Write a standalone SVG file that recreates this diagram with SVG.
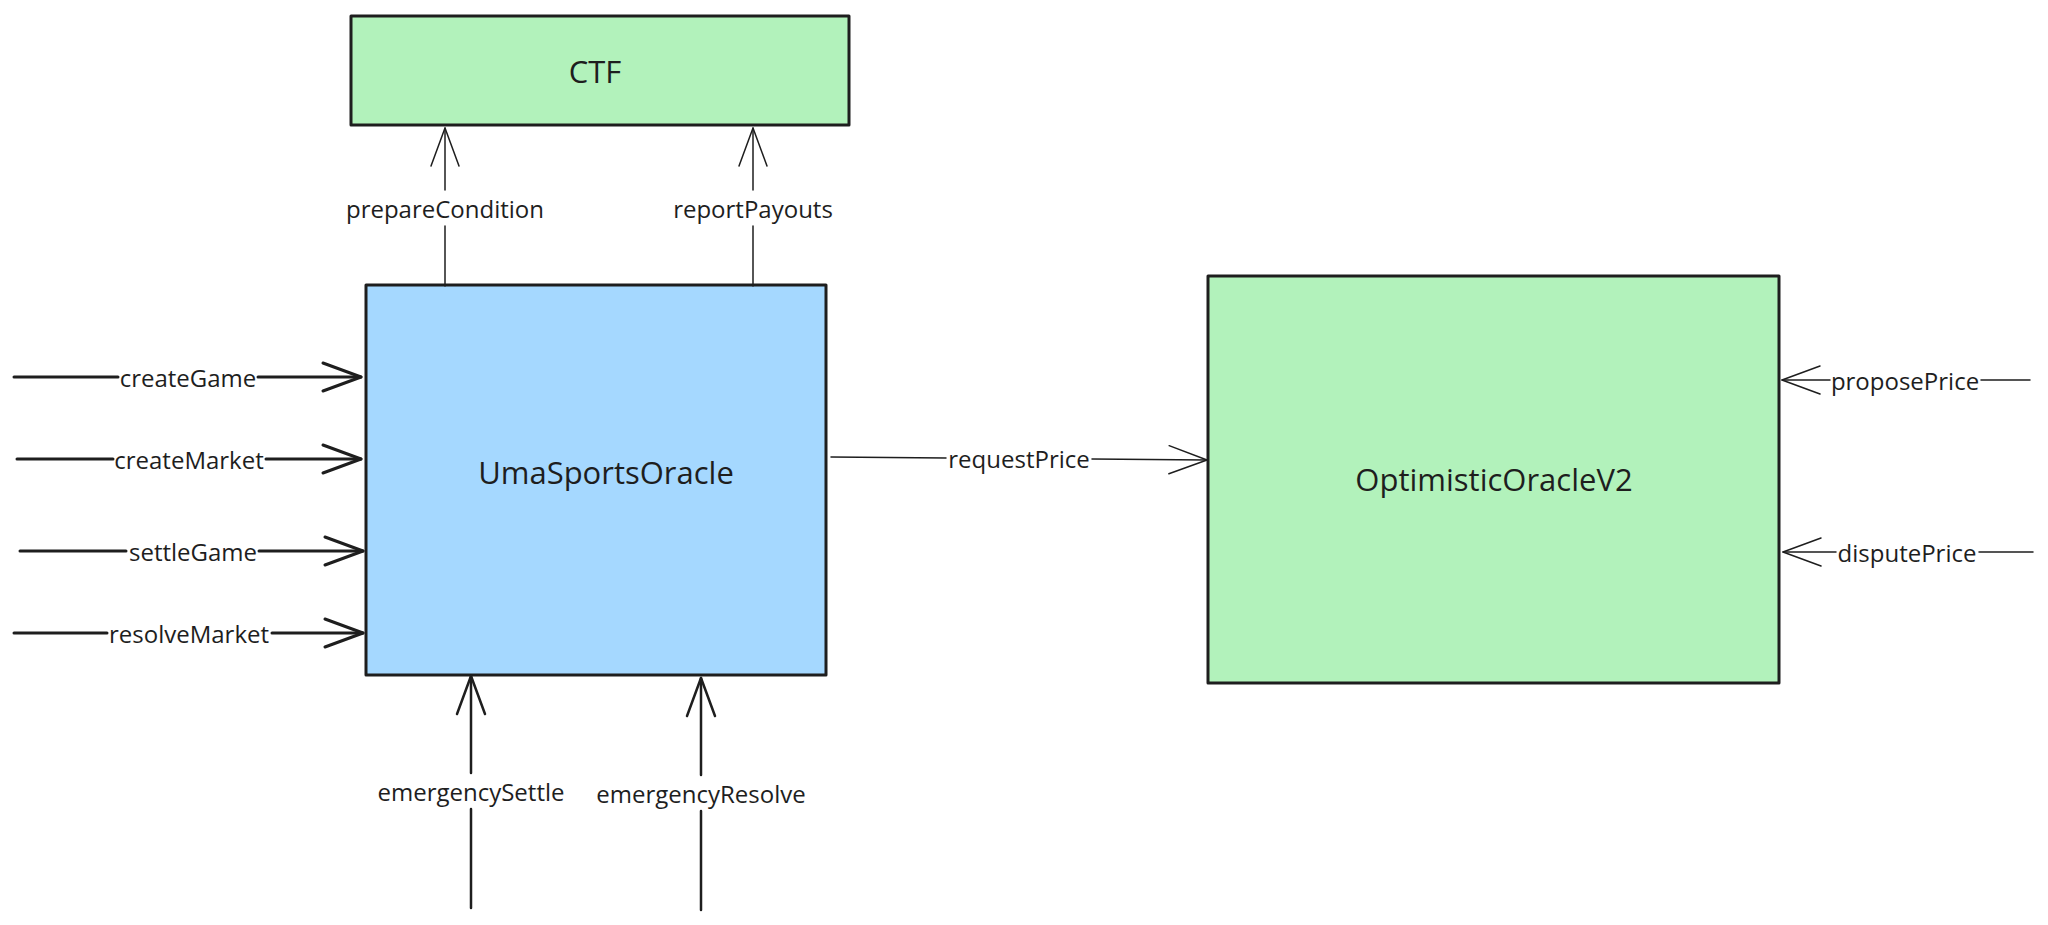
<svg xmlns="http://www.w3.org/2000/svg" width="2048" height="925" viewBox="0 0 2048 925">
<style>
.box{stroke:#1e1e1e;stroke-width:3;stroke-linejoin:round}
.t{font-family:"Open Sans","Liberation Sans",sans-serif;fill:#1e1e1e;text-anchor:middle;dominant-baseline:central}
.big{font-size:31px}
.lbl{font-size:24px}
.thin{stroke:#1e1e1e;stroke-width:1.5;fill:none;stroke-linecap:round}
.thick{stroke:#1e1e1e;stroke-width:3;fill:none;stroke-linecap:round}
.mid{stroke:#1e1e1e;stroke-width:2.5;fill:none;stroke-linecap:round}
</style>
<defs>
<marker id="ah-thin" markerUnits="userSpaceOnUse" viewBox="-40 -16 42 32" refX="0" refY="0" markerWidth="42" markerHeight="32" orient="auto" overflow="visible">
<path d="M -38 -14 L 0 0 L -38 14" fill="none" stroke="#1e1e1e" stroke-width="1.5" stroke-linecap="round" stroke-linejoin="round"/>
</marker>
<marker id="ah-thick" markerUnits="userSpaceOnUse" viewBox="-40 -16 42 32" refX="0" refY="0" markerWidth="42" markerHeight="32" orient="auto" overflow="visible">
<path d="M -38 -14 L 0 0 L -38 14" fill="none" stroke="#1e1e1e" stroke-width="3" stroke-linecap="round" stroke-linejoin="round"/>
</marker>
<marker id="ah-mid" markerUnits="userSpaceOnUse" viewBox="-40 -16 42 32" refX="0" refY="0" markerWidth="42" markerHeight="32" orient="auto" overflow="visible">
<path d="M -38 -14 L 0 0 L -38 14" fill="none" stroke="#1e1e1e" stroke-width="2.5" stroke-linecap="round" stroke-linejoin="round"/>
</marker>
</defs>
<rect width="2048" height="925" fill="#ffffff"/>

<g id="node-ctf">
<rect class="box" x="351" y="16" width="498" height="109" fill="#b2f2bb"/>
<text class="t big" x="595" y="71">CTF</text>
</g>
<g id="node-umasportsoracle">
<rect class="box" x="366" y="285" width="460" height="390" fill="#a5d8ff"/>
<text class="t big" x="606" y="472">UmaSportsOracle</text>
</g>
<g id="node-optimisticoraclev2">
<rect class="box" x="1208" y="276" width="571" height="407" fill="#b2f2bb"/>
<text class="t big" x="1494" y="479">OptimisticOracleV2</text>
</g>

<g id="connectors">
<!-- prepareCondition -->
<line class="thin" x1="445" y1="286" x2="445" y2="226"/>
<line class="thin" x1="445" y1="190" x2="445" y2="128" marker-end="url(#ah-thin)"/>
<text class="t lbl" x="445" y="208">prepareCondition</text>
<!-- reportPayouts -->
<line class="thin" x1="753" y1="286" x2="753" y2="226"/>
<line class="thin" x1="753" y1="190" x2="753" y2="128" marker-end="url(#ah-thin)"/>
<text class="t lbl" x="753" y="208">reportPayouts</text>

<!-- createGame -->
<line class="thick" x1="14" y1="377" x2="118" y2="377"/>
<line class="thick" x1="258" y1="377" x2="361" y2="377" marker-end="url(#ah-thick)"/>
<text class="t lbl" x="188" y="377">createGame</text>
<!-- createMarket -->
<line class="thick" x1="17" y1="459" x2="113" y2="459"/>
<line class="thick" x1="266" y1="459" x2="361" y2="459" marker-end="url(#ah-thick)"/>
<text class="t lbl" x="189" y="459">createMarket</text>
<!-- settleGame -->
<line class="thick" x1="20" y1="551" x2="126" y2="551"/>
<line class="thick" x1="259" y1="551" x2="363" y2="551" marker-end="url(#ah-thick)"/>
<text class="t lbl" x="193" y="551">settleGame</text>
<!-- resolveMarket -->
<line class="thick" x1="14" y1="633" x2="107" y2="633"/>
<line class="thick" x1="272" y1="633" x2="363" y2="633" marker-end="url(#ah-thick)"/>
<text class="t lbl" x="189" y="633">resolveMarket</text>

<!-- emergencySettle -->
<line class="mid" x1="471" y1="908" x2="471" y2="809"/>
<line class="mid" x1="471" y1="773" x2="471" y2="676" marker-end="url(#ah-mid)"/>
<text class="t lbl" x="471" y="791">emergencySettle</text>
<!-- emergencyResolve -->
<line class="mid" x1="701" y1="910" x2="701" y2="811"/>
<line class="mid" x1="701" y1="775" x2="701" y2="678" marker-end="url(#ah-mid)"/>
<text class="t lbl" x="701" y="793">emergencyResolve</text>

<!-- requestPrice -->
<line class="thin" x1="831" y1="457" x2="946" y2="458"/>
<line class="thin" x1="1092" y1="459" x2="1207" y2="460" marker-end="url(#ah-thin)"/>
<text class="t lbl" x="1019" y="458">requestPrice</text>

<!-- proposePrice -->
<line class="thin" x1="2030" y1="380" x2="1981" y2="380"/>
<line class="thin" x1="1830" y1="380" x2="1782" y2="380" marker-end="url(#ah-thin)"/>
<text class="t lbl" x="1905" y="380">proposePrice</text>
<!-- disputePrice -->
<line class="thin" x1="2033" y1="552" x2="1979" y2="552"/>
<line class="thin" x1="1836" y1="552" x2="1783" y2="552" marker-end="url(#ah-thin)"/>
<text class="t lbl" x="1907" y="552">disputePrice</text>
</g>
</svg>
